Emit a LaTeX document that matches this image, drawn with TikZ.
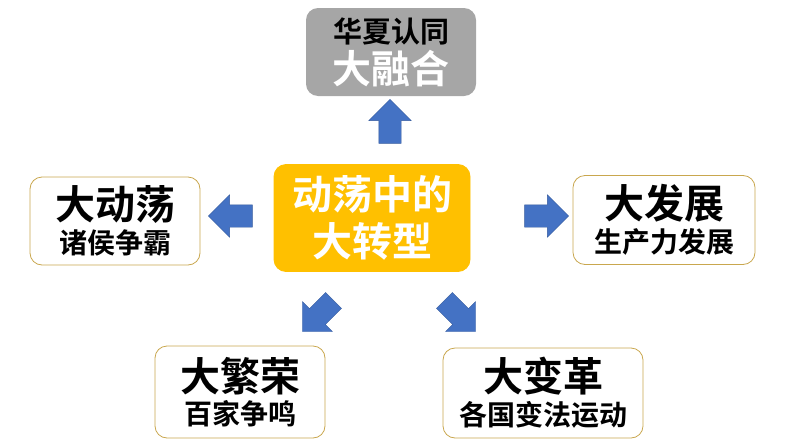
\documentclass[tikz,border=0pt]{standalone}
\usepackage{fontspec}
\setmainfont{Noto Sans CJK SC}[BoldFont={* Bold}]
\usetikzlibrary{shapes.arrows}
\definecolor{gold}{HTML}{FFC000}
\definecolor{frame}{HTML}{C9A74E}
\definecolor{grayfill}{HTML}{A6A6A6}
\definecolor{arrowblue}{HTML}{4472C4}
\tikzset{
    box/.style={draw=frame, line width=0.8pt, rounded corners=12pt, fill=white,
        align=center, inner sep=0pt, font=\bfseries},
    blockarrow/.style={single arrow, fill=arrowblue, draw=arrowblue!80!black,
        line width=0.4pt, minimum height=44pt, text height=0pt, text depth=0pt,
        inner ysep=11pt, inner xsep=0pt, single arrow head extend=10pt}
}
\newcommand{\boxtext}[2]{{\fontsize{40}{42}\selectfont #1}\\[5pt]{\fontsize{28}{30}\selectfont #2}}
\begin{document}
\begin{tikzpicture}[x=1pt, y=-1pt]
    \useasboundingbox (0,0) rectangle (794,447);
    % boxes
    \node[box, fill=grayfill, draw=none, minimum width=170pt, minimum height=88pt] (fusion) at (391,52)
        {{\fontsize{29}{30}\selectfont 华夏认同}\\[4pt]\textcolor{white}{\fontsize{39}{40}\selectfont 大融合}};
    \node[box, fill=gold, draw=gold, minimum width=196pt, minimum height=107pt, text=white] (centre) at (372,218)
        {{\fontsize{40}{42}\selectfont 动荡中的}\\[8pt]{\fontsize{40}{42}\selectfont 大转型}};
    \node[box, minimum width=170pt, minimum height=88pt] (turmoil) at (115,221)
        {\boxtext{大动荡}{诸侯争霸}};
    \node[box, minimum width=182pt, minimum height=89pt] (growth) at (664,220)
        {\boxtext{大发展}{生产力发展}};
    \node[box, minimum width=170pt, minimum height=92pt] (bloom) at (240,392)
        {\boxtext{大繁荣}{百家争鸣}};
    \node[box, minimum width=200pt, minimum height=90pt] (reform) at (543,393)
        {\boxtext{大变革}{各国变法运动}};
    % arrows
    \node[blockarrow, rotate=90] (upArrow) at (390,127) {};
    \node[blockarrow, rotate=180] (leftArrow) at (236,216) {};
    \node[blockarrow] (rightArrow) at (541,216) {};
    \node[blockarrow, rotate=225] (dlArrow) at (322,312) {};
    \node[blockarrow, rotate=-45] (drArrow) at (456,312) {};
\end{tikzpicture}
\end{document}
